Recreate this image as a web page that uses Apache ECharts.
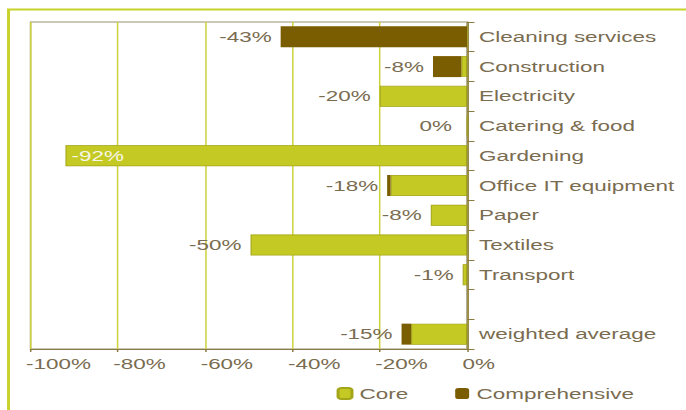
<!DOCTYPE html>
<html>
<head>
<meta charset="utf-8">
<script src="https://cdn.jsdelivr.net/npm/echarts@6/dist/echarts.min.js"></script>
<style>
html,body{margin:0;padding:0;background:#fff;overflow:hidden;}
#main{width:458px;height:410px;transform:scaleX(1.4978);transform-origin:0 0;}
</style>
</head>
<body>
<div id="main"></div>
<script>
const categories = ['Cleaning services','Construction','Electricity','Catering & food','Gardening','Office IT equipment','Paper','Textiles','Transport','','weighted average'];
const coreValues = [0, -1.3, -20, 0, -92, -17.5, -8.3, -49.6, -1, null, -12.8];
const comprehensiveValues = [-42.7, -6.5, 0, 0, 0, -0.8, 0, 0, 0, null, -2.2];
const totalLabels = [-43, -8, -20, 0, -92, -18, -8, -50, -1, null, -15];
const xTicks = [-100, -80, -60, -40, -20, 0];

const FONT = "'Liberation Sans', Arial, sans-serif";
const TXT = '#7a6c50';
const chart = echarts.init(document.getElementById('main'), null, {renderer: 'svg'});

const compData = comprehensiveValues.map((v, i) => {
  if (i === 4) {
    return {value: v, label: {position: 'right', distance: 4, color: '#f6f6e6'}};
  }
  if (i === 3) {
    return {value: v, label: {distance: 10}};
  }
  return v;
});

chart.setOption({
  backgroundColor: '#ffffff',
  animation: false,
  textStyle: {fontFamily: FONT},
  graphic: [{
    type: 'rect', silent: true, z: 100,
    shape: {x: 5.7, y: 9.5, width: 520, height: 460},
    style: {fill: 'none', stroke: '#c8d22a', lineWidth: 2}
  }],
  grid: {left: 20.4, right: 146.2, top: 22, bottom: 61, show: true, borderColor: '#9a9272', borderWidth: 1, backgroundColor: 'transparent'},
  legend: {
    left: 219.7, top: 381,
    itemWidth: 9.3, itemHeight: 11, itemGap: 31.4,
    textStyle: {fontFamily: FONT, fontSize: 15, color: TXT},
    data: ['Core', 'Comprehensive']
  },
  xAxis: {
    type: 'value', min: xTicks[0], max: xTicks[xTicks.length - 1], interval: 20,
    axisLine: {show: true, lineStyle: {color: '#8a7a44', width: 1}},
    axisTick: {show: true, length: 3, lineStyle: {color: '#8a7a44'}},
    splitLine: {show: true, lineStyle: {color: '#cdd23c', width: 1}},
    axisLabel: {fontFamily: FONT, fontSize: 15, color: TXT, align: 'left', margin: 7, padding: [0, 0, 0, -3], formatter: v => v + '%'}
  },
  yAxis: {
    type: 'category', data: categories, inverse: true, position: 'right',
    axisLine: {show: true, lineStyle: {color: '#8a7a44', width: 1}},
    axisTick: {show: true, length: 5, lineStyle: {color: '#8a7a44'}},
    axisLabel: {fontFamily: FONT, fontSize: 15, color: TXT, margin: 8}
  },
  series: [
    {
      name: 'Core', type: 'bar', stack: 'total', stackStrategy: 'all', barWidth: 21,
      data: coreValues,
      itemStyle: {color: '#c4c923', borderColor: '#a3a51a', borderWidth: 0.7}
    },
    {
      name: 'Comprehensive', type: 'bar', stack: 'total', stackStrategy: 'all', barWidth: 21,
      data: compData,
      itemStyle: {color: '#7a5d00', borderWidth: 0},
      label: {
        show: true, position: 'left', distance: 6,
        fontFamily: FONT, fontSize: 15, color: TXT,
        formatter: p => totalLabels[p.dataIndex] == null ? '' : totalLabels[p.dataIndex] + '%'
      }
    }
  ]
});
</script>
</body>
</html>
